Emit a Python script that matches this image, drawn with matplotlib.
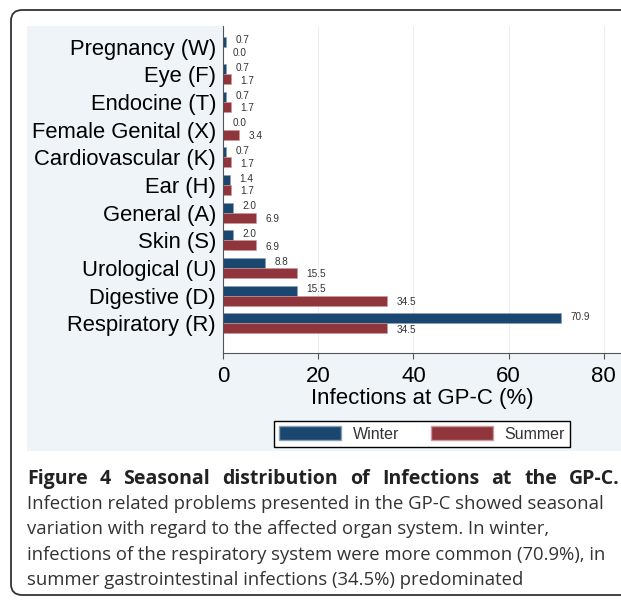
import matplotlib.pyplot as plt
from matplotlib.patches import Rectangle, FancyBboxPatch, Patch
import numpy as np

categories = ['Pregnancy (W)', 'Eye (F)', 'Endocine (T)', 'Female Genital (X)',
              'Cardiovascular (K)', 'Ear (H)', 'General (A)', 'Skin (S)',
              'Urological (U)', 'Digestive (D)', 'Respiratory (R)']
winter = [0.7, 0.7, 0.7, 0.0, 0.7, 1.4, 2.0, 2.0, 8.8, 15.5, 70.9]
summer = [0.0, 1.7, 1.7, 3.4, 1.7, 1.7, 6.9, 6.9, 15.5, 34.5, 34.5]
xticks = [0, 20, 40, 60, 80]

caption_title = 'Figure 4 Seasonal distribution of Infections at the GP-C.'
caption_lines = ['Infection related problems presented in the GP-C showed seasonal',
                 'variation with regard to the affected organ system. In winter,',
                 'infections of the respiratory system were more common (70.9%), in',
                 'summer gastrointestinal infections (34.5%) predominated']

navy = '#1a476f'
maroon = '#90353b'
bg = '#eef4f8'

W, H = 621, 601
fig = plt.figure(figsize=(6.21, 6.01), dpi=100)
plt.rcParams['font.family'] = ['Liberation Sans', 'DejaVu Sans']

def fx(px):
    return px / W

def fy(py):
    return 1 - py / H

# outer rounded border, cropped on the right
fig.patches.append(FancyBboxPatch((fx(11), fy(595)), fx(640), fy(10) - fy(595),
                                  boxstyle='round,pad=0,rounding_size=0.018',
                                  transform=fig.transFigure, fill=False,
                                  edgecolor='#333333', linewidth=1.3, zorder=0))
# light graph region
fig.patches.append(Rectangle((fx(27), fy(451)), fx(621 - 27), fy(26) - fy(451),
                             transform=fig.transFigure, facecolor=bg,
                             edgecolor='none', zorder=0))

ax = fig.add_axes([fx(223), fy(353), 1 - fx(223), fy(26) - fy(353)])
ax.set_zorder(3)
ax.set_facecolor('white')

n = len(categories)
y = np.arange(n)[::-1]
h = 0.36
ax.barh(y + h / 2, winter, height=h, color=navy, edgecolor='#8aa0b8', linewidth=0.4)
ax.barh(y - h / 2, summer, height=h, color=maroon, edgecolor='#c89a9e', linewidth=0.4)
for yi, w, s in zip(y, winter, summer):
    ax.text(w + 2.0, yi + h / 2 + 0.05, f'{w:.1f}', fontsize=7.2, color='#333333',
            va='center', ha='left')
    ax.text(s + 2.0, yi - h / 2 - 0.05, f'{s:.1f}', fontsize=7.2, color='#333333',
            va='center', ha='left')

ax.set_xlim(0, 83.6)
ax.set_ylim(-1.07, 10.75)
ax.set_yticks(y)
ax.set_yticklabels(categories, fontsize=15.8)
ax.tick_params(axis='y', length=0, pad=5)
ax.set_xticks(xticks)
ax.set_xticklabels([str(t) for t in xticks], fontsize=16)
ax.tick_params(axis='x', length=4, color='#555555', pad=5)
for t in xticks[1:]:
    ax.axvline(t, color='#eeeeee', linewidth=0.8, zorder=0)
for side in ['top', 'right']:
    ax.spines[side].set_visible(False)
ax.spines['left'].set_color('#555555')
ax.spines['bottom'].set_color('#555555')
ax.set_xlabel('Infections at GP-C (%)', fontsize=16, labelpad=1)

handles = [Patch(facecolor=navy, edgecolor='#8aa0b8', label='Winter'),
           Patch(facecolor=maroon, edgecolor='#c89a9e', label='Summer')]
leg = fig.legend(handles=handles, loc='center', bbox_to_anchor=(fx(422), fy(434)),
                 ncol=2, fontsize=11.5, handlelength=3.9, handleheight=0.9,
                 columnspacing=2.0, handletextpad=0.7, fancybox=False,
                 borderpad=0.35, framealpha=1)
leg.get_frame().set_edgecolor('black')
leg.get_frame().set_linewidth(1.0)
for t in leg.get_texts():
    t.set_color('#333333')

# caption: justified bold title, then plain lines
renderer = fig.canvas.get_renderer()
words = caption_title.split()
word_texts = [fig.text(0, fy(479), wd, fontsize=14, fontweight='bold',
                       family='Open Sans', va='center', ha='left', color='#222222')
              for wd in words]
widths = [t.get_window_extent(renderer).width for t in word_texts]
gap = (620 - 27 - sum(widths)) / (len(words) - 1)
xpos = 27
for t, wdt in zip(word_texts, widths):
    t.set_x(fx(xpos))
    xpos += wdt + gap

for i, line in enumerate(caption_lines):
    fig.text(fx(27), fy(504 + 25.3 * i), line, fontsize=13.3, family='Open Sans',
             va='center', ha='left', color='#333333')

fig.savefig('out.png', dpi=100)
